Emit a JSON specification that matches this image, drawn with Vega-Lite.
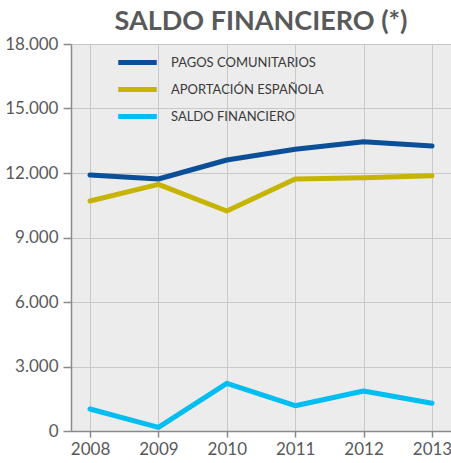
{
  "$schema": "https://vega.github.io/schema/vega-lite/v6.json",
  "width": 380,
  "height": 387,
  "autosize": {"type": "none"},
  "padding": {"left": 71, "top": 44, "right": 0, "bottom": 32},
  "background": "white",
  "title": {
    "text": "SALDO FINANCIERO (*)",
    "anchor": "middle",
    "font": "Lato",
    "fontSize": 27,
    "fontWeight": "bold",
    "color": "#58595b",
    "offset": -1
  },
  "config": {
    "view": {"fill": "#ececec", "stroke": null},
    "font": "Lato"
  },
  "data": {
    "values": [
      {"year": "2008", "serie": "PAGOS COMUNITARIOS", "value": 11907},
      {"year": "2009", "serie": "PAGOS COMUNITARIOS", "value": 11721},
      {"year": "2010", "serie": "PAGOS COMUNITARIOS", "value": 12605},
      {"year": "2011", "serie": "PAGOS COMUNITARIOS", "value": 13101},
      {"year": "2012", "serie": "PAGOS COMUNITARIOS", "value": 13457},
      {"year": "2013", "serie": "PAGOS COMUNITARIOS", "value": 13256},
      {"year": "2008", "serie": "APORTACIÓN ESPAÑOLA", "value": 10698},
      {"year": "2009", "serie": "APORTACIÓN ESPAÑOLA", "value": 11474},
      {"year": "2010", "serie": "APORTACIÓN ESPAÑOLA", "value": 10233},
      {"year": "2011", "serie": "APORTACIÓN ESPAÑOLA", "value": 11721},
      {"year": "2012", "serie": "APORTACIÓN ESPAÑOLA", "value": 11783},
      {"year": "2013", "serie": "APORTACIÓN ESPAÑOLA", "value": 11876},
      {"year": "2008", "serie": "SALDO FINANCIERO", "value": 1023},
      {"year": "2009", "serie": "SALDO FINANCIERO", "value": 172},
      {"year": "2010", "serie": "SALDO FINANCIERO", "value": 2219},
      {"year": "2011", "serie": "SALDO FINANCIERO", "value": 1177},
      {"year": "2012", "serie": "SALDO FINANCIERO", "value": 1860},
      {"year": "2013", "serie": "SALDO FINANCIERO", "value": 1288}
    ]
  },
  "mark": {"type": "line", "strokeWidth": 5, "strokeCap": "round", "strokeJoin": "round"},
  "encoding": {
    "x": {
      "field": "year",
      "type": "ordinal",
      "scale": {"type": "point", "padding": 0.278},
      "axis": {
        "title": null,
        "labelAngle": 0,
        "labelFont": "Lato",
        "labelFontSize": 17,
        "labelColor": "#58595b",
        "labelPadding": 4,
        "grid": true,
        "gridColor": "#c8c8c8",
        "gridWidth": 1,
        "domainColor": "#8a8a8a",
        "domainWidth": 1.5,
        "tickColor": "#8a8a8a",
        "tickSize": 6,
        "tickWidth": 1.5
      }
    },
    "y": {
      "field": "value",
      "type": "quantitative",
      "scale": {"domain": [0, 18000], "nice": false, "zero": true},
      "axis": {
        "title": null,
        "values": [0, 3000, 6000, 9000, 12000, 15000, 18000],
        "labelExpr": "replace(format(datum.value, ','), ',', '.')",
        "labelFont": "Lato",
        "labelFontSize": 17,
        "labelColor": "#58595b",
        "labelPadding": 5,
        "grid": true,
        "gridColor": "#c8c8c8",
        "gridWidth": 1,
        "domainColor": "#8a8a8a",
        "domainWidth": 1.5,
        "tickColor": "#8a8a8a",
        "tickSize": 8,
        "tickWidth": 1.5
      }
    },
    "color": {
      "field": "serie",
      "type": "nominal",
      "scale": {
        "domain": ["PAGOS COMUNITARIOS", "APORTACIÓN ESPAÑOLA", "SALDO FINANCIERO"],
        "range": ["#0a4f98", "#c6b500", "#00bdf2"]
      },
      "legend": {
        "title": null,
        "orient": "none",
        "legendX": 53,
        "legendY": 5,
        "symbolType": "M-1.75,0H1.75",
        "symbolSize": 484,
        "symbolStrokeWidth": 5,
        "symbolStrokeCap": "round",
        "labelFont": "Lato",
        "labelFontSize": 13,
        "labelColor": "#3a3a3a",
        "labelOffset": 20,
        "rowPadding": 3,
        "fillColor": null,
        "strokeColor": null
      }
    }
  }
}
